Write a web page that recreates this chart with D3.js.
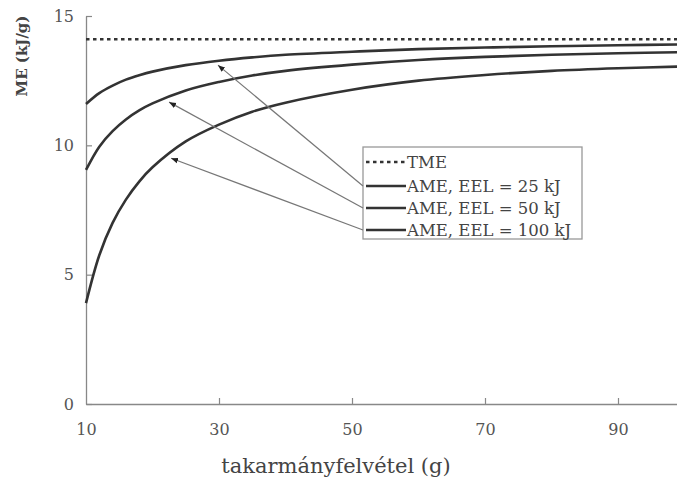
<!DOCTYPE html>
<html>
<head>
<meta charset="utf-8">
<script src="https://d3js.org/d3.v7.min.js"></script>
<style>
  body { margin: 0; background: #fff; }
  text { font-family: "DejaVu Serif", serif; }
</style>
</head>
<body>
<script>
// feed intake (g)
var feed = [10, 12, 14, 16, 18, 20, 25, 30, 35, 40, 50, 60, 70, 80, 90, 100];
var tme = 14.1;
var ame25 = [11.6, 12.02, 12.31, 12.54, 12.71, 12.85, 13.1, 13.27, 13.4, 13.5, 13.62, 13.72, 13.78, 13.83, 13.87, 13.9];
var ame50 = [9.05, 9.95, 10.55, 11.0, 11.35, 11.62, 12.12, 12.45, 12.7, 12.88, 13.12, 13.3, 13.42, 13.5, 13.56, 13.6];
var ame100 = [3.9, 5.75, 7.0, 7.9, 8.6, 9.15, 10.15, 10.8, 11.3, 11.65, 12.15, 12.5, 12.72, 12.88, 12.98, 13.05];
var xTicks = [10, 30, 50, 70, 90];
var yTicks = [0, 5, 10, 15];
var legendLabels = ["TME", "AME, EEL = 25 kJ", "AME, EEL = 50 kJ", "AME, EEL = 100 kJ"];
// arrow tips on the curves (feed, ME)
var arrowX = [29.85, 22.5, 22.8];
var arrowY = [13.1, 11.67, 9.5];

var width = 677, height = 488;
var svg = d3.select("body").append("svg")
    .attr("width", width)
    .attr("height", height);

var x = d3.scaleLinear().domain([10, 100]).range([86, 684.5]);
var y = d3.scaleLinear().domain([0, 15]).range([404, 16]);

var ink = "#333";

svg.append("defs").append("marker")
    .attr("id", "arrow")
    .attr("viewBox", "0 0 10 10")
    .attr("refX", 10).attr("refY", 5)
    .attr("markerWidth", 7).attr("markerHeight", 7)
    .attr("orient", "auto")
    .attr("markerUnits", "userSpaceOnUse")
    .append("path")
    .attr("d", "M0,1 L10,5 L0,9 z")
    .attr("fill", "#222");

// axes
var xAxis = svg.append("g")
    .attr("transform", "translate(0," + y(0) + ")")
    .call(d3.axisBottom(x).tickValues(xTicks).tickSizeInner(-6).tickSizeOuter(0).tickPadding(20));
var yAxis = svg.append("g")
    .attr("transform", "translate(" + x(10) + ",0)")
    .call(d3.axisLeft(y).tickValues(yTicks).tickSizeInner(-6).tickSizeOuter(0).tickPadding(12));

[xAxis, yAxis].forEach(function (g) {
    g.select(".domain").attr("stroke", "#888").attr("stroke-width", 1.3);
    g.selectAll(".tick line").attr("stroke", "#888").attr("stroke-width", 1.2);
    g.selectAll(".tick text")
        .attr("fill", "#555")
        .style("font-size", "16px")
        .style("font-family", "'DejaVu Serif', serif");
});
xAxis.selectAll(".tick").filter(function (d) { return d === 10; }).select("line").remove();

// TME line
svg.append("line")
    .attr("x1", x(10)).attr("x2", width)
    .attr("y1", y(tme)).attr("y2", y(tme))
    .attr("stroke", ink)
    .attr("stroke-width", 2.6)
    .attr("stroke-dasharray", "3.5,3.5");

var line = d3.line()
    .x(function (d) { return x(d[0]); })
    .y(function (d) { return y(d[1]); })
    .curve(d3.curveCatmullRom);

[ame25, ame50, ame100].forEach(function (s) {
    svg.append("path")
        .datum(d3.zip(feed, s))
        .attr("d", line)
        .attr("fill", "none")
        .attr("stroke", ink)
        .attr("stroke-width", 2.6);
});

// legend
var lg = { x: 363, y: 147, w: 219, h: 92 };
svg.append("rect")
    .attr("x", lg.x).attr("y", lg.y)
    .attr("width", lg.w).attr("height", lg.h)
    .attr("fill", "#fff")
    .attr("stroke", "#999")
    .attr("stroke-width", 1.3);

var rowY = [162, 186, 208, 230];
legendLabels.forEach(function (t, i) {
    svg.append("line")
        .attr("x1", lg.x + 3).attr("x2", lg.x + 43)
        .attr("y1", rowY[i]).attr("y2", rowY[i])
        .attr("stroke", ink)
        .attr("stroke-width", 2.6)
        .attr("stroke-dasharray", i === 0 ? "3.5,3.5" : null);
    svg.append("text")
        .attr("x", lg.x + 44)
        .attr("y", rowY[i] + 5.5)
        .attr("fill", "#444")
        .style("font-size", "16.5px")
        .text(t);
});

// callouts
arrowX.forEach(function (fx, i) {
    svg.append("line")
        .attr("x1", lg.x).attr("y1", rowY[i + 1])
        .attr("x2", x(fx)).attr("y2", y(arrowY[i]))
        .attr("stroke", "#777")
        .attr("stroke-width", 1.2)
        .attr("marker-end", "url(#arrow)");
});

// axis titles
svg.append("text")
    .attr("x", 336).attr("y", 473)
    .attr("text-anchor", "middle")
    .attr("fill", "#444")
    .style("font-size", "21px")
    .text("takarmányfelvétel (g)");

svg.append("text")
    .attr("transform", "translate(27,56) rotate(-90)")
    .attr("text-anchor", "middle")
    .attr("fill", "#444")
    .style("font-size", "15px")
    .style("font-weight", "bold")
    .text("ME (kJ/g)");
</script>
</body>
</html>
